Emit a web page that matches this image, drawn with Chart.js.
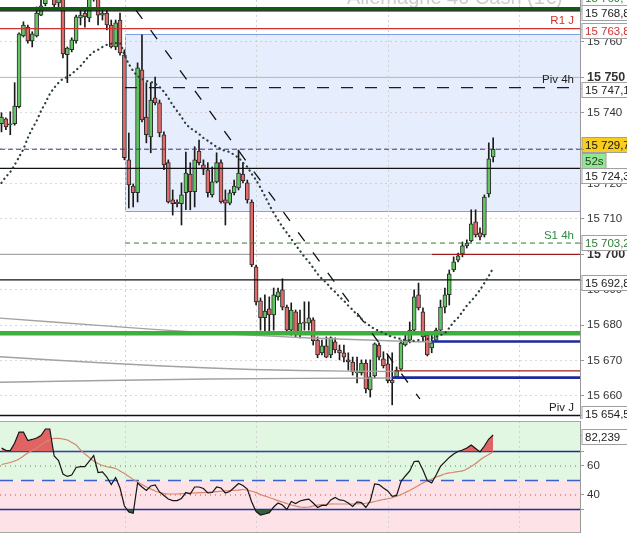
<!DOCTYPE html>
<html>
<head>
<meta charset="utf-8">
<script src="https://cdn.jsdelivr.net/npm/chart.js@4.4.1/dist/chart.umd.min.js"></script>
<style>
  html, body { margin: 0; padding: 0; background: #fff; }
  #wrap { position: relative; width: 627px; height: 535px; overflow: hidden; }
  #priceChart { position: absolute; left: 0; top: 0; }
  #rsiChart { position: absolute; left: 0; top: 421px; }
</style>
</head>
<body>
<div id="wrap">
  <canvas id="priceChart" width="627" height="419"></canvas>
  <canvas id="rsiChart" width="627" height="112"></canvas>
</div>
<script>
// Allemagne 40 - candles + RSI panel
const TITLE = 'Allemagne 40 Cash (1€)';

const candleOpen = [
  15736.9, 15738.3, 15736.6, 15736.9, 15741.7, 15761.7, 15764.2, 15760.3, 15761.7, 15767.6,
  15770.8, 15775.3, 15772.7, 15771.0, 15773.3, 15756.4, 15757.8, 15760.3, 15766.8, 15768.2,
  15766.8, 15772.5, 15772.7, 15767.6, 15768.2, 15764.8, 15758.6, 15766.2, 15756.3, 15726.7,
  15719.3, 15717.4, 15752.1, 15738.8, 15733.2, 15744.2, 15742.8, 15733.8, 15725.9, 15715.4,
  15714.8, 15714.3, 15717.4, 15722.7, 15717.7, 15729.2, 15725.3, 15723.9, 15716.8, 15720.5,
  15725.9, 15715.4, 15714.5, 15717.4, 15718.8, 15722.7, 15720.2, 15714.8, 15696.5, 15686.9,
  15682.1, 15684.6, 15682.9, 15688.0, 15690.0, 15685.1, 15678.6, 15683.8, 15678.1, 15680.9,
  15680.6, 15681.5, 15675.8, 15672.2, 15674.2, 15671.6, 15675.3, 15673.0, 15672.2, 15670.2,
  15669.6, 15666.5, 15666.5, 15669.3, 15661.7, 15665.7, 15674.4, 15670.5, 15669.1, 15664.5,
  15665.4, 15667.6, 15674.4, 15675.8, 15678.6, 15688.6, 15683.8, 15677.2, 15673.6, 15675.8,
  15678.6, 15685.1, 15688.6, 15695.6, 15698.4, 15700.1, 15702.4, 15703.8, 15709.2, 15706.1,
  15705.5, 15717.1, 15727.5
];
const candleHigh = [
  15740.0, 15738.6, 15740.3, 15748.5, 15762.6, 15765.7, 15764.8, 15762.9, 15769.9, 15771.9,
  15774.0, 15776.5, 15774.0, 15775.0, 15774.0, 15758.6, 15761.2, 15767.6, 15769.1, 15769.6,
  15773.5, 15775.0, 15774.0, 15769.0, 15769.0, 15766.2, 15766.2, 15768.2, 15757.8, 15734.3,
  15719.9, 15754.1, 15762.0, 15748.5, 15748.5, 15750.1, 15743.6, 15734.6, 15726.7, 15718.2,
  15715.4, 15720.2, 15728.9, 15725.9, 15730.4, 15732.3, 15726.7, 15725.9, 15724.7, 15728.7,
  15726.7, 15718.2, 15718.2, 15721.0, 15729.5, 15725.9, 15721.0, 15715.4, 15697.0, 15687.7,
  15688.6, 15688.0, 15690.5, 15690.5, 15693.1, 15685.7, 15686.3, 15684.3, 15684.3, 15686.6,
  15686.6, 15682.1, 15676.7, 15675.8, 15676.7, 15676.7, 15676.4, 15674.4, 15674.4, 15672.2,
  15671.0, 15671.0, 15670.2, 15670.2, 15670.2, 15675.0, 15675.0, 15672.5, 15671.6, 15672.2,
  15668.2, 15675.8, 15677.8, 15680.9, 15690.0, 15691.9, 15684.9, 15677.8, 15677.8, 15679.2,
  15687.1, 15690.5, 15695.6, 15699.3, 15700.4, 15703.5, 15704.1, 15712.6, 15712.6, 15707.5,
  15716.8, 15731.5, 15732.9
];
const candleLow = [
  15734.6, 15735.2, 15733.8, 15736.5, 15741.4, 15761.4, 15759.7, 15758.6, 15761.4, 15767.4,
  15770.2, 15772.5, 15769.6, 15770.0, 15755.5, 15748.5, 15757.2, 15759.7, 15764.8, 15764.2,
  15765.7, 15771.5, 15764.8, 15766.2, 15763.4, 15758.3, 15757.8, 15756.3, 15726.7, 15713.1,
  15713.4, 15714.8, 15737.4, 15731.5, 15728.7, 15742.2, 15733.2, 15723.9, 15714.5, 15711.1,
  15713.4, 15708.3, 15712.6, 15712.6, 15713.4, 15725.3, 15722.5, 15716.2, 15716.2, 15720.2,
  15714.5, 15708.3, 15714.0, 15716.8, 15718.2, 15720.2, 15714.5, 15696.5, 15685.7, 15678.6,
  15678.1, 15678.1, 15678.6, 15687.1, 15684.3, 15677.8, 15677.2, 15676.7, 15676.4, 15678.6,
  15678.6, 15674.4, 15670.8, 15671.6, 15670.8, 15670.8, 15672.2, 15670.2, 15669.6, 15667.3,
  15665.9, 15663.7, 15665.9, 15660.9, 15659.7, 15665.1, 15670.2, 15667.9, 15663.7, 15657.5,
  15665.1, 15667.3, 15674.1, 15675.0, 15677.8, 15684.3, 15675.8, 15671.3, 15672.2, 15675.3,
  15677.8, 15683.5, 15685.7, 15695.1, 15697.9, 15699.3, 15701.8, 15703.5, 15704.9, 15704.1,
  15704.9, 15716.2, 15726.1
];
const candleClose = [
  15738.8, 15736.0, 15736.9, 15741.9, 15762.3, 15764.8, 15760.3, 15762.3, 15768.2, 15770.2,
  15773.3, 15773.0, 15770.5, 15773.5, 15756.6, 15758.3, 15760.6, 15767.1, 15767.6, 15767.1,
  15772.5, 15774.0, 15767.6, 15768.2, 15764.8, 15758.6, 15765.4, 15756.9, 15727.3, 15719.6,
  15717.4, 15752.7, 15738.0, 15733.8, 15743.6, 15742.8, 15734.3, 15725.3, 15714.8, 15714.3,
  15714.3, 15716.8, 15723.0, 15717.7, 15726.7, 15725.9, 15724.1, 15717.4, 15720.5, 15725.9,
  15714.8, 15714.5, 15717.4, 15719.3, 15723.0, 15720.8, 15715.4, 15697.0, 15686.6, 15682.1,
  15684.0, 15682.9, 15688.6, 15689.4, 15685.1, 15678.6, 15684.3, 15678.1, 15680.6, 15680.6,
  15682.1, 15675.6, 15671.6, 15674.2, 15671.0, 15676.4, 15673.0, 15672.2, 15671.0, 15669.6,
  15666.8, 15666.8, 15669.3, 15662.0, 15665.4, 15674.7, 15671.0, 15668.5, 15664.3, 15663.7,
  15667.3, 15675.0, 15675.8, 15678.6, 15688.0, 15684.9, 15676.7, 15671.6, 15675.0, 15678.6,
  15685.1, 15688.6, 15694.5, 15697.9, 15699.6, 15702.4, 15703.2, 15708.6, 15705.5, 15704.9,
  15716.2, 15727.0, 15729.7
];

// dotted moving average over the candles
const dottedAvg = [
  15720.2, 15721.9, 15723.3, 15725.3, 15727.5, 15729.8, 15732.9, 15735.5, 15737.7, 15740.5,
  15742.8, 15745.3, 15747.0, 15748.5, 15749.6, 15750.1, 15751.0, 15752.1, 15753.2, 15754.7,
  15756.1, 15757.2, 15757.8, 15758.6, 15759.2, 15759.5, 15759.7, 15759.7, 15756.3, 15753.8,
  15751.8, 15750.4, 15749.6, 15749.0, 15748.7, 15748.2, 15747.3, 15745.9, 15744.2, 15742.2,
  15740.5, 15738.8, 15736.9, 15735.7, 15734.9, 15734.0, 15732.9, 15732.1, 15731.2, 15730.4,
  15729.8, 15729.2, 15728.9, 15728.1, 15727.3, 15725.9, 15724.7, 15722.7, 15721.0, 15718.8,
  15716.5, 15714.0, 15711.7, 15709.7, 15707.8, 15706.1, 15704.4, 15702.7, 15701.0, 15699.3,
  15697.9, 15696.2, 15694.5, 15693.1, 15692.0, 15690.5, 15689.4, 15688.0, 15686.9, 15685.5,
  15684.3, 15682.9, 15681.8, 15680.6, 15679.8, 15678.9, 15678.4, 15677.8, 15677.2, 15676.7,
  15676.4, 15676.1, 15675.8, 15675.6, 15675.6, 15675.8, 15675.8, 15676.1, 15676.4, 15676.7,
  15677.2, 15677.8, 15679.2, 15680.9, 15682.1, 15683.8, 15685.5, 15686.9, 15688.3, 15690.0,
  15691.9, 15693.9, 15696.2
];

const rsiValues = [
  72.4, 70.8, 70.6, 75.9, 83.4, 83.4, 77.6, 78.3, 79.3, 81.0,
  85.5, 85.5, 66.9, 63.8, 54.5, 52.8, 53.8, 59.0, 59.5, 59.5,
  63.4, 67.2, 55.5, 55.9, 52.4, 47.2, 52.1, 44.8, 32.4, 28.3,
  27.4, 48.3, 45.5, 43.1, 46.2, 46.9, 42.1, 39.7, 37.2, 36.1,
  36.1, 37.6, 41.7, 40.7, 45.5, 45.5, 44.5, 41.4, 41.7, 45.5,
  44.8, 41.4, 42.4, 45.2, 47.9, 46.6, 44.1, 35.2, 28.6, 26.2,
  26.9, 27.8, 31.7, 34.5, 33.1, 30.0, 35.5, 34.1, 35.9, 36.6,
  37.2, 34.5, 31.4, 32.8, 32.8, 36.6, 38.3, 36.6, 36.2, 34.5,
  32.1, 35.2, 34.8, 31.4, 35.9, 47.6, 47.2, 44.8, 42.8, 39.0,
  39.7, 49.3, 53.1, 56.6, 63.1, 63.4, 57.2, 50.0, 48.3, 53.8,
  59.7, 62.8, 65.9, 68.3, 70.0, 71.0, 72.4, 74.5, 72.1, 69.7,
  73.8, 78.6, 81.4
];
const rsiAverage = [
  61.0, 61.7, 62.4, 63.4, 64.8, 66.9, 69.0, 70.7, 72.4, 74.5,
  76.6, 77.9, 79.0, 79.0, 78.6, 77.9, 76.2, 74.5, 71.0, 68.3,
  65.9, 63.4, 61.7, 60.3, 59.5, 59.0, 58.3, 56.6, 54.8, 52.8,
  50.7, 49.0, 47.2, 45.5, 44.1, 42.8, 41.7, 41.0, 40.7, 40.7,
  40.7, 40.9, 41.2, 41.4, 41.4, 41.6, 41.7, 41.9, 42.1, 42.3,
  42.6, 42.8, 43.0, 43.2, 43.4, 43.8, 43.4, 42.6, 41.6, 40.3,
  39.3, 38.3, 37.2, 36.1, 35.2, 34.1, 33.1, 32.4, 31.7, 31.5,
  31.7, 32.4, 33.1, 33.3, 33.6, 33.8, 33.8, 33.8, 33.8, 33.8,
  33.8, 34.0, 34.1, 34.3, 34.8, 35.5, 36.2, 36.9, 37.4, 38.1,
  39.1, 40.3, 41.7, 43.1, 44.8, 46.6, 48.3, 49.7, 51.0, 52.4,
  53.4, 54.5, 55.2, 55.7, 56.1, 56.6, 57.9, 59.7, 61.7, 64.1,
  66.2, 67.9, 69.9
];
const RSI_LAST_TEXT = '82,239';
const COUNTDOWN = '52s';

const priceTicks = [15660, 15670, 15680, 15690, 15700, 15710, 15720, 15730, 15740, 15750, 15760];
const rsiTicks = [40, 60];
const rsiLevels = [70, 60, 50, 40, 30];
const timeGrid = [28.35, 58.2, 88.05, 118.1];

// horizontal levels
const GREEN_TOP = 15769.4, HIGH_LINE = 15768.8, R1_J = 15763.8, ROUND_50 = 15750;
const PIV_4H = 15747.1, LAST = 15729.7, MID_LINE = 15724.3, S1_4H = 15703.2, ROUND_00 = 15700;
const LOW_LINE = 15692.8, GREEN_SUPPORT = 15677.7, BLUE_HIGH = 15675.4, RED_LOW = 15667.1;
const BLUE_LOW = 15665.2, PIV_J = 15654.5;
const ZONE_TOP = 15762.3, ZONE_BOTTOM = 15712.3, ZONE_START = 28.13;
const LATE_START = 98.06, RED_LOW_START = 89.6, BLUE_LOW_START = 88.95;

const levelNames = ['R1 J', 'Piv 4h', 'S1 4h', 'Piv J'];
const levelNameValues = [R1_J, PIV_4H, S1_4H, PIV_J];
const tagPrices = [GREEN_TOP, HIGH_LINE, R1_J, PIV_4H, LAST, MID_LINE, S1_4H, LOW_LINE, PIV_J];

// grey curves and trend line: [candle index, price]
const grayCurveA = [[-0.34, 15682.0], [23.6, 15679.8], [47.5, 15677.8], [70.3, 15676.4], [93.1, 15675.4], [98.06, 15675.3]];
const grayCurveB = [[-0.34, 15671.1], [23.6, 15669.3], [47.5, 15667.9], [68.0, 15667.2], [89.6, 15666.9]];
const grayCurveC = [[-0.34, 15663.9], [47.5, 15664.8], [88.95, 15665.1]];
const trendLine = [[27.27, 15774.7], [95.3, 15659.2]];

const X_MIN = -0.34, X_MAX = 131.78;
const UP = '#62c762', DOWN = '#df6b6b';

Chart.defaults.font.family = 'Arial, "Liberation Sans", Helvetica, sans-serif';
Chart.defaults.font.size = 11;

function fr(v, d) {
  const s = v.toFixed(d).split('.');
  const int = s[0].replace(/\B(?=(\d{3})+(?!\d))/g, ' ');
  return s[1] ? int + ',' + s[1] : int;
}

function hline(y, from, to, color, width, dash, order) {
  return {
    type: 'line', data: [{ x: from, y: y }, { x: to, y: y }],
    borderColor: color, borderWidth: width, borderDash: dash || [],
    pointRadius: 0, fill: false, order: order
  };
}
function curve(pts, color, width, dash, order) {
  return {
    type: 'line', data: pts.map(p => ({ x: p[0], y: p[1] })),
    borderColor: color, borderWidth: width, borderDash: dash || [],
    pointRadius: 0, fill: false, tension: 0.3, order: order
  };
}

function xScale() {
  return {
    type: 'linear', min: X_MIN, max: X_MAX, offset: false,
    afterBuildTicks: s => { s.ticks = timeGrid.map(v => ({ value: v })); },
    afterFit: s => { s.height = 0; s.paddingLeft = 0; s.paddingRight = 0; },
    ticks: { display: false },
    grid: { color: '#d2d2d2', drawTicks: false, offset: false },
    border: { display: false, dash: [2, 3] }
  };
}

function drawTag(ctx, area, yLine, yBox, text, color, bg, w) {
  const x = area.right + 2, h = 15;
  const top = Math.round(yBox - h / 2) + 0.5;
  ctx.save();
  ctx.strokeStyle = '#999'; ctx.lineWidth = 1;
  ctx.beginPath(); ctx.moveTo(area.right, Math.round(yLine) + 0.5); ctx.lineTo(area.right + 4, Math.round(yLine) + 0.5); ctx.stroke();
  ctx.fillStyle = bg; ctx.fillRect(x, top, w, h);
  ctx.strokeStyle = '#a0a0a0'; ctx.strokeRect(x, top, w, h);
  ctx.fillStyle = color; ctx.font = '11.5px Arial, "Liberation Sans", sans-serif';
  ctx.textBaseline = 'middle'; ctx.textAlign = 'left';
  ctx.fillText(text, x + 3, top + h / 2 + 0.5);
  ctx.restore();
}

// price panel extras
const tagStyle = [
  { color: '#2e7d32', bg: '#fff', dy: -11 },
  { color: '#222', bg: '#fff', dy: 2 },
  { color: '#d32f2f', bg: '#fff', dy: 1.5 },
  { color: '#222', bg: '#fff', dy: 2 },
  { color: '#111', bg: '#f9cd1e', dy: -5 },
  { color: '#222', bg: '#fff', dy: 7 },
  { color: '#2e7d32', bg: '#fff', dy: -1 },
  { color: '#222', bg: '#fff', dy: 3 },
  { color: '#222', bg: '#fff', dy: -2 }
];
const nameColors = ['#d32f2f', '#222', '#2e8b3e', '#222'];

const pricePlugin = {
  id: 'priceExtras',
  beforeDraw(chart) {
    const { ctx, chartArea: a, scales: { x, y } } = chart;
    ctx.save();
    ctx.font = '20px Arial, "Liberation Sans", sans-serif';
    ctx.fillStyle = '#cdcdcd'; ctx.textBaseline = 'alphabetic'; ctx.textAlign = 'left';
    ctx.fillText(TITLE, 347, 4);
    const left = x.getPixelForValue(ZONE_START), top = y.getPixelForValue(ZONE_TOP), bottom = y.getPixelForValue(ZONE_BOTTOM);
    ctx.fillStyle = '#e6edfc';
    ctx.fillRect(left, top, a.right - left, bottom - top);
    ctx.strokeStyle = '#7ea2e2'; ctx.lineWidth = 1;
    ctx.beginPath();
    ctx.moveTo(a.right, Math.round(top) + 0.5); ctx.lineTo(Math.round(left) + 0.5, Math.round(top) + 0.5);
    ctx.lineTo(Math.round(left) + 0.5, Math.round(bottom) + 0.5); ctx.lineTo(a.right, Math.round(bottom) + 0.5);
    ctx.stroke();
    ctx.restore();
  },
  afterDraw(chart) {
    const { ctx, chartArea: a, scales: { y } } = chart;
    ctx.save();
    ctx.font = '11.5px Arial, "Liberation Sans", sans-serif';
    ctx.textAlign = 'right'; ctx.textBaseline = 'middle';
    levelNames.forEach((n, i) => {
      ctx.fillStyle = nameColors[i];
      ctx.fillText(n, a.right - 6, y.getPixelForValue(levelNameValues[i]) - 7.5);
    });
    ctx.restore();
    tagPrices.forEach((v, i) => {
      const yl = y.getPixelForValue(v), st = tagStyle[i];
      drawTag(ctx, a, yl, yl + st.dy, fr(v, 1), st.color, st.bg, 50);
    });
    const yl = y.getPixelForValue(LAST);
    drawTag(ctx, a, yl, yl + 11, COUNTDOWN, '#1d3a1d', '#95e595', 24);
  }
};

const common = {
  responsive: false, animation: false, events: [],
  layout: { padding: 0 },
  plugins: { legend: { display: false }, tooltip: { enabled: false } }
};

new Chart(document.getElementById('priceChart'), {
  type: 'bar',
  data: {
    datasets: [
      hline(ROUND_50, X_MIN, X_MAX, '#b8b8b8', 1, null, 40),
      hline(ROUND_00, X_MIN, LATE_START, '#a8a8a8', 1.3, null, 40),
      {
        type: 'bar', data: candleLow.map((l, i) => ({ x: i, y: [l, candleHigh[i]] })),
        backgroundColor: '#1a1a1a', barThickness: 1, grouped: false, order: 31
      },
      {
        type: 'bar', data: candleOpen.map((o, i) => ({ x: i, y: [o, candleClose[i]] })),
        backgroundColor: candleOpen.map((o, i) => candleClose[i] >= o ? UP : DOWN),
        borderColor: '#2a2a2a', borderWidth: 1, borderSkipped: false,
        barThickness: 4, minBarLength: 1, grouped: false, order: 30
      },
      curve(grayCurveA, '#a2a2a2', 1.4, null, 12),
      curve(grayCurveB, '#a2a2a2', 1.4, null, 12),
      curve(grayCurveC, '#a2a2a2', 1.4, null, 12),
      hline(ROUND_00, LATE_START, X_MAX, '#a11c1c', 1.3, null, 11),
      hline(RED_LOW, RED_LOW_START, X_MAX, '#a11c1c', 1.3, null, 11),
      hline(BLUE_HIGH, LATE_START, X_MAX, '#1b2a9c', 2.6, null, 10),
      hline(BLUE_LOW, BLUE_LOW_START, X_MAX, '#1b2a9c', 2.6, null, 10),
      hline(GREEN_SUPPORT, X_MIN, X_MAX, '#3caf3c', 4.5, null, 9),
      hline(GREEN_TOP, X_MIN, X_MAX, '#0c5f0c', 3.5, null, 9),
      hline(HIGH_LINE, X_MIN, X_MAX, '#111', 1.4, null, 8),
      hline(R1_J, X_MIN, X_MAX, '#cf3030', 1.2, null, 8),
      hline(MID_LINE, X_MIN, X_MAX, '#111', 1.2, null, 8),
      hline(LOW_LINE, X_MIN, X_MAX, '#111', 1.2, null, 8),
      hline(PIV_J, X_MIN, X_MAX, '#111', 1.4, null, 8),
      hline(PIV_4H, ZONE_START, X_MAX, '#1c1c1c', 1.3, [12, 12], 7),
      hline(LAST, X_MIN, X_MAX, '#3b3b90', 1, [5, 3], 7),
      hline(S1_4H, ZONE_START, X_MAX, '#2e7d32', 1, [5, 4], 7),
      curve(trendLine, '#111', 1.3, [11, 14], 6),
      {
        type: 'line', data: dottedAvg.map((v, i) => ({ x: i, y: v })),
        borderColor: '#2b3f3f', borderWidth: 2.2, borderDash: [0.2, 4.6], borderCapStyle: 'round',
        pointRadius: 0, fill: false, tension: 0.3, order: 5
      }
    ]
  },
  options: Object.assign({}, common, {
    scales: {
      x: xScale(),
      y: {
        position: 'right', min: 15653.5, max: 15771.86,
        afterBuildTicks: s => { s.ticks = priceTicks.map(v => ({ value: v })); },
        afterFit: s => { s.width = 47; s.paddingTop = 0; s.paddingBottom = 0; },
        ticks: {
          padding: 3, color: '#333',
          callback: v => fr(v, 0),
          font: c => (c.tick && c.tick.value % 50 === 0) ? { size: 12.5, weight: 'bold' } : { size: 11.5 }
        },
        grid: { color: 'rgba(200,178,178,0.55)', tickColor: '#999', tickLength: 4 },
        border: { color: '#999', dash: [2, 3] }
      }
    }
  }),
  plugins: [pricePlugin]
});

// RSI panel
const rsiPlugin = {
  id: 'rsiExtras',
  beforeDraw(chart) {
    const { ctx, chartArea: a, scales: { y } } = chart;
    const mid = y.getPixelForValue(50);
    ctx.save();
    ctx.fillStyle = '#e2f7e2'; ctx.fillRect(a.left, a.top, a.right - a.left, mid - a.top);
    ctx.fillStyle = '#fde2e7'; ctx.fillRect(a.left, mid, a.right - a.left, a.bottom - mid);
    ctx.restore();
  },
  afterDraw(chart) {
    const { ctx, chartArea: a, scales: { y } } = chart;
    ctx.save();
    ctx.strokeStyle = '#a8a8a8'; ctx.lineWidth = 1;
    ctx.beginPath();
    ctx.moveTo(a.left, a.top + 0.5); ctx.lineTo(a.right, a.top + 0.5);
    ctx.moveTo(a.left, a.bottom - 0.5); ctx.lineTo(a.right, a.bottom - 0.5);
    ctx.stroke();
    ctx.restore();
    const yl = y.getPixelForValue(rsiValues[rsiValues.length - 1]);
    drawTag(ctx, a, yl, yl + 1.5, RSI_LAST_TEXT, '#222', '#fff', 50);
  }
};

const rsiPoints = rsiValues.map((v, i) => ({ x: i, y: v }));

new Chart(document.getElementById('rsiChart'), {
  type: 'line',
  data: {
    datasets: [
      hline(70, X_MIN, X_MAX, '#1f2c9a', 1.4, null, 20),
      hline(30, X_MIN, X_MAX, '#1f2c9a', 1.4, null, 20),
      hline(50, X_MIN, X_MAX, '#3b5fd0', 1.5, [13, 8], 20),
      hline(60, X_MIN, X_MAX, '#3a9a3a', 1.2, [1, 4], 20),
      hline(40, X_MIN, X_MAX, '#d04848', 1.2, [1, 4], 20),
      {
        data: rsiPoints, borderColor: 'rgba(0,0,0,0)', borderWidth: 0, pointRadius: 0,
        fill: { target: { value: 70 }, above: '#e06464', below: 'rgba(0,0,0,0)' }, order: 6
      },
      {
        data: rsiPoints, borderColor: 'rgba(0,0,0,0)', borderWidth: 0, pointRadius: 0,
        fill: { target: { value: 30 }, above: 'rgba(0,0,0,0)', below: '#355f3d' }, order: 6
      },
      {
        data: rsiAverage.map((v, i) => ({ x: i, y: v })), borderColor: '#d4866f', borderWidth: 1.2,
        pointRadius: 0, fill: false, tension: 0.3, order: 3
      },
      {
        data: rsiPoints, borderColor: '#151515', borderWidth: 1.2, pointRadius: 0, fill: false, order: 1
      }
    ]
  },
  options: Object.assign({}, common, {
    scales: {
      x: xScale(),
      y: {
        position: 'right', min: 13.79, max: 91.03,
        afterBuildTicks: s => { s.ticks = [30, 70].concat(rsiTicks).map(v => ({ value: v })); },
        afterFit: s => { s.width = 47; s.paddingTop = 0; s.paddingBottom = 0; },
        ticks: { padding: 3, color: '#333', font: { size: 11.5 }, callback: v => rsiTicks.includes(v) ? String(v) : '' },
        grid: { drawOnChartArea: false, tickColor: '#999', tickLength: 4 },
        border: { color: '#999' }
      }
    }
  }),
  plugins: [rsiPlugin]
});
</script>
</body>
</html>
